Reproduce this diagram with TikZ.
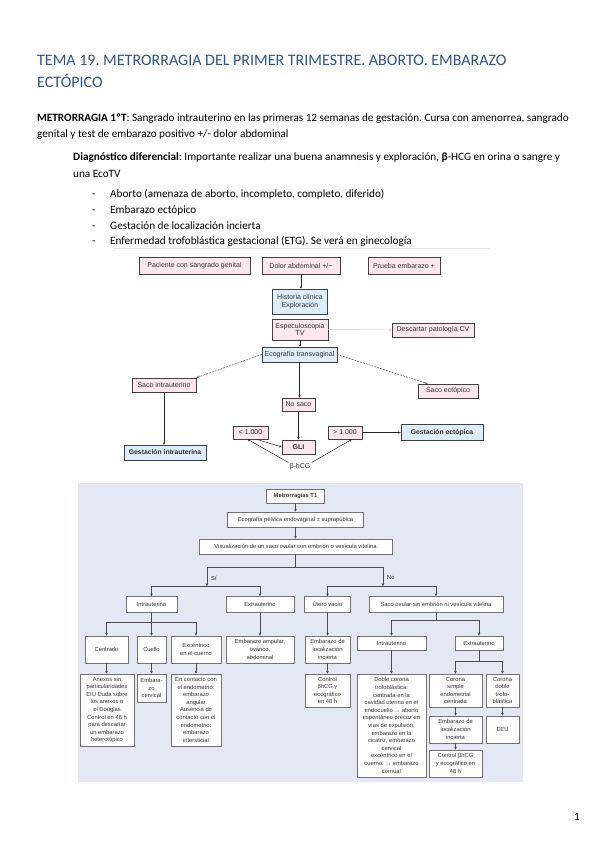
\documentclass[tikz,border=0pt]{standalone}
\usepackage{fontspec}
\setmainfont{Carlito}
\newfontfamily\af{Liberation Sans}
\usetikzlibrary{arrows.meta,shadows}
\definecolor{titleblue}{RGB}{47,84,150}
\definecolor{pinkc}{RGB}{252,231,236}
\definecolor{bluec}{RGB}{221,237,250}
\definecolor{bgc}{RGB}{228,232,244}
\definecolor{bord2}{RGB}{115,115,115}
\definecolor{txt2}{RGB}{50,50,50}
\frenchspacing
\tikzset{
  txt/.style={anchor=base west, inner sep=0pt, font=\fontsize{11.2}{13}\selectfont},
  b1/.style={draw=black!75, line width=0.5pt, inner sep=0pt, align=center, text=black!80,
     font=\af\fontsize{7}{7.8}\selectfont,
     drop shadow={shadow xshift=0.8pt,shadow yshift=-0.8pt,fill=black!70,opacity=1}},
  pk/.style={b1, fill=pinkc},
  bl/.style={b1, fill=bluec},
  b2/.style={draw=bord2, fill=white, line width=0.6pt, inner sep=0pt, align=center, text=txt2,
     font=\af\fontsize{5.8}{7.6}\selectfont},
  ar1/.style={draw=black!85, line width=0.5pt, -{Stealth[length=2.6pt,width=2.4pt]}},
  da1/.style={draw=black!60, line width=0.6pt, dash pattern=on 2pt off 1pt, -{Stealth[length=3pt,width=2.6pt]}},
  ln2/.style={draw=black!70, line width=0.6pt},
  ar2/.style={ln2, -{Stealth[length=2.8pt,width=2.8pt]}}
}
\begin{document}
\begin{tikzpicture}[x=1pt,y=-1pt]
\useasboundingbox (0,0) rectangle (599,848);
\fill[white] (0,0) rectangle (599,848);

% ---------- text ----------
\node[txt, font=\fontsize{16}{19}\selectfont, text=titleblue] (t1) at (37,66) {TEMA 19. METRORRAGIA DEL PRIMER TRIMESTRE. ABORTO. EMBARAZO};
\node[txt, font=\fontsize{16}{19}\selectfont, text=titleblue] (t2) at (37,88) {ECTÓPICO};
\node[txt] (p1) at (37,121.5) {\textbf{METRORRAGIA 1ºT}: Sangrado intrauterino en las primeras 12 semanas de gestación. Cursa con amenorrea, sangrado};
\node[txt] (p2) at (37,137.5) {genital y test de embarazo positivo +/- dolor abdominal};
\node[txt] (d1) at (73,160.5) {\textbf{Diagnóstico diferencial}: Importante realizar una buena anamnesis y exploración, \textbf{β}-HCG en orina o sangre y};
\node[txt] (d2) at (73,177.5) {una EcoTV};
\node[txt] (m1) at (92,197.5) {-};
\node[txt] (m2) at (92,213.5) {-};
\node[txt] (m3) at (92,229.5) {-};
\node[txt] (m4) at (92,244.5) {-};
\node[txt] (l1) at (110,197.5) {Aborto (amenaza de aborto, incompleto, completo, diferido)};
\node[txt] (l2) at (110,213.5) {Embarazo ectópico};
\node[txt] (l3) at (110,229.5) {Gestación de localización incierta};
\node[txt] (l4) at (110,244.5) {Enfermedad trofoblástica gestacional (ETG). Se verá en ginecología};
\node[txt] (pg) at (574,820) {1};

% ---------- chart 1 ----------
\draw[black!10, line width=0.6pt] (113,248) -- (490,248);
\node[pk, minimum width=111pt, minimum height=17pt] (pac) at (194.5,265.5) {Paciente con sangrado genital};
\node[pk, minimum width=78pt, minimum height=17pt] (dolor) at (301,265.5) {Dolor abdominal +/−};
\node[pk, minimum width=72pt, minimum height=17pt] (prueba) at (404,265.5) {Prueba embarazo +};
\node[bl, minimum width=55pt, minimum height=25pt] (hist) at (300,301.5) {Historia clínica\\Exploración};
\node[pk, minimum width=56pt, minimum height=21pt] (espec) at (300,329.5) {Especuloscopia\\TV};
\node[pk, minimum width=82pt, minimum height=14pt] (desc) at (433,330) {Descartar patología CV};
\node[bl, minimum width=75pt, minimum height=15pt] (eco) at (299.5,354.5) {Ecografía transvaginal};
\node[pk, minimum width=64pt, minimum height=14pt] (sacoi) at (164,385) {Saco intrauterino};
\node[pk, minimum width=60pt, minimum height=14pt] (sacoe) at (448,391) {Saco ectópico};
\node[pk, minimum width=33pt, minimum height=13pt] (nosaco) at (298.5,404.5) {No saco};
\node[pk, minimum width=35pt, minimum height=13pt] (menor) at (250.5,432.5) {< 1.000};
\node[pk, minimum width=34pt, minimum height=13pt] (mayor) at (345,432.5) {> 1.000};
\node[pk, minimum width=33pt, minimum height=14pt, font=\af\bfseries\fontsize{7}{7.8}\selectfont] (gli) at (298.5,447) {GLI};
\node[bl, minimum width=82pt, minimum height=15pt, font=\af\bfseries\fontsize{6.8}{7.8}\selectfont] (gestin) at (165,452.5) {Gestación intrauterina};
\node[bl, minimum width=82pt, minimum height=16pt, font=\af\bfseries\fontsize{6.8}{7.8}\selectfont] (gestec) at (442,432.5) {Gestación ectópica};
\node[inner sep=1pt, text=black!80, font=\af\fontsize{7}{7.8}\selectfont] (bhcg) at (300,467) {β-hCG};

\draw[ar1] (dolor.south) -- (dolor.south |- hist.north);
\draw[ar1] (espec.south) -- (espec.south |- eco.north);
\draw[black!20, line width=0.5pt, -{Stealth[length=2.6pt,width=2.4pt]}] (espec.east) -- (desc.west);
\draw[ar1] (eco.south) -- (eco.south |- nosaco.north);
\draw[ar1] (nosaco.south) -- (nosaco.south |- gli.north);
\draw[ar1] (sacoi.south) -- (sacoi.south |- gestin.north);
\draw[ar1] (mayor.east) -- (mayor.east -| gestec.west);
\draw[da1] (eco.west) -- (sacoi.north east);
\draw[da1] (eco.east) -- ([xshift=10pt]sacoe.north west);
\draw[ar1] ([xshift=6pt]menor.south) -- (gli.west);
\draw[ar1] (bhcg.north west) -- ([xshift=-3pt]menor.south);
\draw[ar1] (bhcg.north east) -- ([xshift=7pt]mayor.south);

% ---------- chart 2 ----------
\fill[bgc] (78,483) rectangle (523,782);
\node[b2, minimum width=58pt, minimum height=14pt, font=\af\bfseries\fontsize{5.8}{7.6}\selectfont] (metro) at (295.5,496) {Metrorragias T1};
\node[b2, minimum width=136pt, minimum height=15pt] (ecop) at (295.5,519.5) {Ecografía pélvica endovaginal ± suprapúbica};
\node[b2, minimum width=193pt, minimum height=15pt] (vis) at (295.5,546.5) {Visualización de un saco ovular con embrión o vesícula vitelina};

\node[b2, minimum width=51pt, minimum height=16pt] (intra1) at (151.5,604.5) {Intrauterino};
\node[b2, minimum width=68pt, minimum height=16pt] (extra1) at (260,604.5) {Extrauterino};
\node[b2, minimum width=46pt, minimum height=16pt] (utero) at (327.5,604.5) {Útero vacío};
\node[b2, minimum width=134pt, minimum height=16pt] (saco) at (436,604.5) {Saco ovular sin embrión ni vesícula vitelina};

\node[b2, minimum width=43pt, minimum height=27pt] (centr) at (106.5,649.5) {Centrado};
\node[b2, minimum width=29pt, minimum height=27pt] (cuello) at (151.5,649.5) {Cuello};
\node[b2, minimum width=50pt, minimum height=27pt] (excen) at (196,649.5) {Excéntrico\\en el cuerno};
\node[b2, minimum width=68pt, minimum height=27pt] (ampul) at (260,649.5) {Embarazo ampular,\\ovárico,\\abdominal};
\node[b2, minimum width=45pt, minimum height=27pt] (eli1) at (327.5,649.5) {Embarazo de\\localización\\incierta};
\node[b2, minimum width=69pt, minimum height=14pt] (intra2) at (391.5,643) {Intrauterino};
\node[b2, minimum width=48pt, minimum height=14pt] (extra2) at (479,643) {Extrauterino};

\node[b2, minimum width=54pt, minimum height=72pt] (anex) at (107,710) {Anexos sin\\particularidades\\EIU Duda sobre\\los anexos o\\el Douglas\\Control en 48 h\\para descartar\\un embarazo\\heterotópico};
\node[b2, minimum width=29pt, minimum height=28pt] (cerv) at (151.5,688) {Embara-\\zo\\cervical};
\node[b2, minimum width=50pt, minimum height=72pt] (conta) at (196,710) {En contacto con\\el endometrio:\\embarazo\\angular\\Ausencia de\\contacto con el\\endometrio:\\embarazo\\intersticial};
\node[b2, minimum width=45pt, minimum height=33pt] (ctrl1) at (327.5,690.5) {Control\\βhCG y\\ecográfico\\en 48 h};
\node[b2, minimum width=69pt, minimum height=103pt] (doble) at (391.5,725.5) {Doble corona\\trofoblástica:\\centrada en la\\cavidad uterina en el\\endocuello → aborto\\espontáneo precoz en\\vías de expulsión,\\embarazo en la\\cicatriz, embarazo\\cervical\\excéntrico en el\\cuerno: → embarazo\\cornual};
\node[b2, minimum width=53pt, minimum height=33pt] (csim) at (455.5,690.5) {Corona\\simple\\endometrial\\centrada};
\node[b2, minimum width=33pt, minimum height=33pt] (cdob) at (502.5,690.5) {Corona\\doble\\trofo-\\blástica};
\node[b2, minimum width=53pt, minimum height=27pt] (eli2) at (455.5,729.5) {Embarazo de\\localización\\incierta};
\node[b2, minimum width=33pt, minimum height=27pt] (eeu) at (502.5,729.5) {EEU};
\node[b2, minimum width=53pt, minimum height=27pt] (ctrl2) at (455.5,763.5) {Control βhCG\\y ecográfico en\\48 h};

\node[inner sep=0pt, anchor=west, text=txt2, font=\af\fontsize{5.8}{7.6}\selectfont] (si) at (211,578) {Sí};
\node[inner sep=0pt, anchor=west, text=txt2, font=\af\fontsize{5.8}{7.6}\selectfont] (no) at (387,578) {No};

\draw[ar2] (metro.south) -- (ecop.north);
\draw[ar2] (ecop.south) -- (vis.north);
\coordinate (j0) at (295.5,567);
\coordinate (jS) at (207,567);
\coordinate (jN) at (383,567);
\coordinate (bS) at (207,586);
\coordinate (bN) at (383,586);
\draw[ln2] (vis.south) -- (j0);
\draw[ln2] (jS) -- (jN);
\draw[ar2] (jS) -- (bS);
\draw[ar2] (jN) -- (bN);
\coordinate (bS1) at (151.5,586);
\coordinate (bS2) at (260,586);
\coordinate (bN1) at (327.5,586);
\coordinate (bN2) at (436,586);
\draw[ln2] (bS1) -- (bS2);
\draw[ln2] (bN1) -- (bN2);
\draw[ar2] (bS1) -- (intra1.north);
\draw[ar2] (bS2) -- (extra1.north);
\draw[ar2] (bN1) -- (utero.north);
\draw[ar2] (bN2) -- (saco.north);

\coordinate (bI1) at (106.5,622);
\coordinate (bI3) at (196,622);
\draw[ln2] (bI1) -- (bI3);
\draw[ar2] (intra1.south) -- (cuello.north);
\draw[ar2] (bI1) -- (centr.north);
\draw[ar2] (bI3) -- (excen.north);
\draw[ar2] (extra1.south) -- (ampul.north);
\draw[ar2] (utero.south) -- (eli1.north);
\draw[ar2] (eli1.south) -- (ctrl1.north);
\draw[ar2] (centr.south) -- (centr.south |- anex.north);
\draw[ar2] (cuello.south) -- (cerv.north);
\draw[ar2] (excen.south) -- (conta.north);

\coordinate (bO0) at (436,620);
\coordinate (bO1) at (391.5,620);
\coordinate (bO2) at (479,620);
\draw[ln2] (saco.south) -- (bO0);
\draw[ln2] (bO1) -- (bO2);
\draw[ar2] (bO1) -- (intra2.north);
\draw[ar2] (bO2) -- (extra2.north);
\draw[ar2] (intra2.south) -- (doble.north);
\coordinate (bE0) at (479,661);
\coordinate (bE1) at (455.5,661);
\coordinate (bE2) at (502.5,661);
\draw[ln2] (extra2.south) -- (bE0);
\draw[ln2] (bE1) -- (bE2);
\draw[ar2] (bE1) -- (csim.north);
\draw[ar2] (bE2) -- (cdob.north);
\draw[ar2] (csim.south) -- (eli2.north);
\draw[ar2] (eli2.south) -- (ctrl2.north);
\draw[ar2] (cdob.south) -- (eeu.north);
\end{tikzpicture}
\end{document}
